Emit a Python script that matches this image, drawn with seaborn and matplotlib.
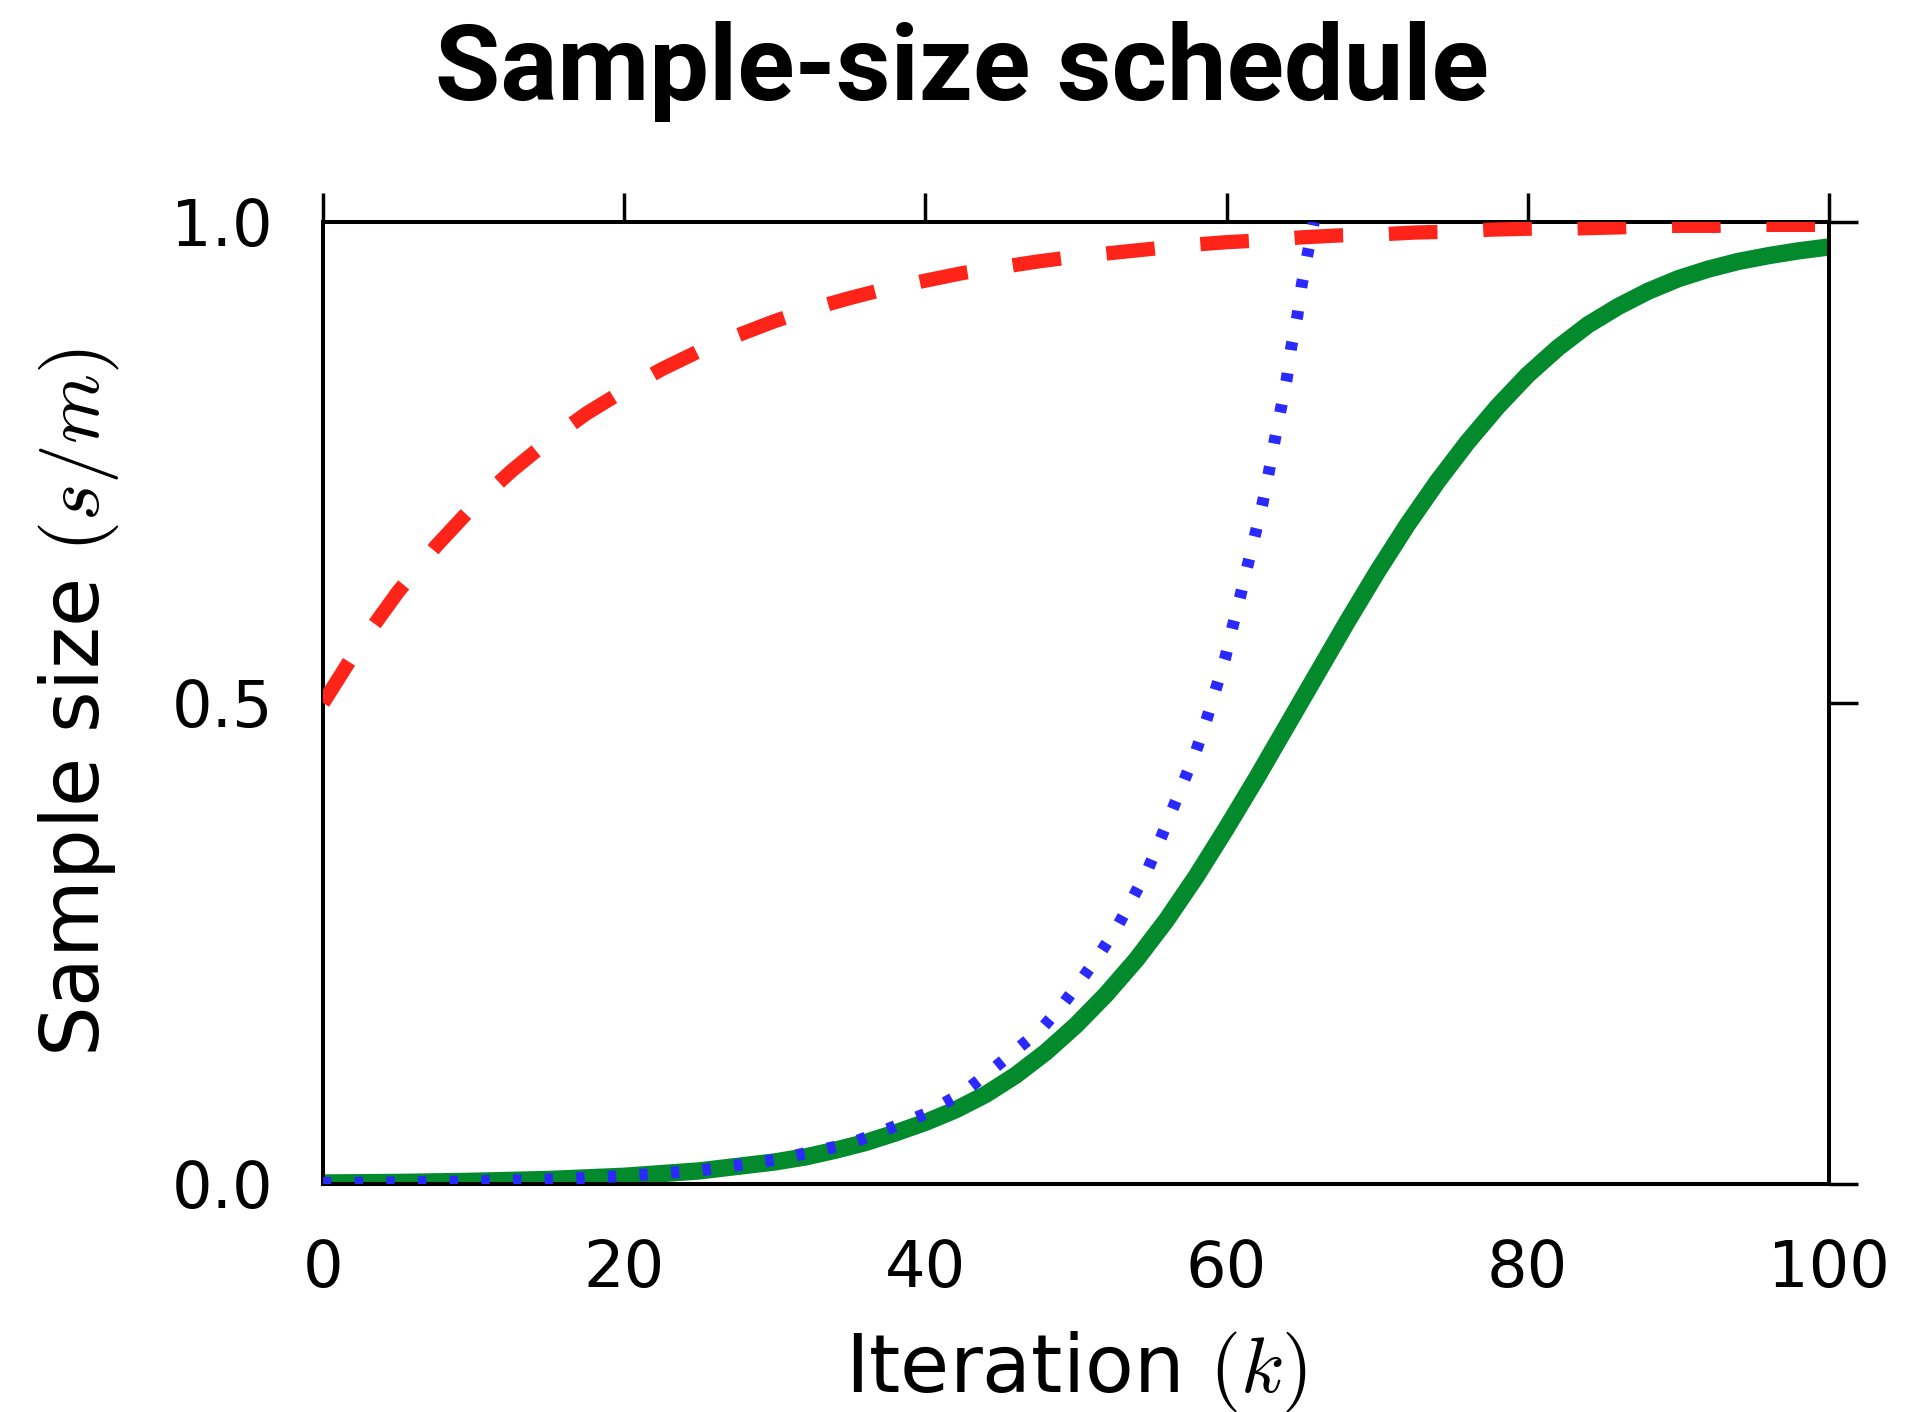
import matplotlib
matplotlib.use("Agg")
import matplotlib.pyplot as plt
import seaborn as sns
import pandas as pd
from matplotlib import font_manager

# ---- data ----
iter_red = [0, 2.5, 5, 7.5, 10, 12.5, 15, 17.5, 20, 22.5, 25, 27.5, 30, 32.5, 35, 37.5,
            40, 42.5, 45, 47.5, 50, 52.5, 55, 57.5, 60, 62.5, 65, 67.5, 70, 72.5, 75,
            77.5, 80, 82.5, 85, 87.5, 90, 92.5, 95, 97.5, 100]
size_red = [0.500, 0.562, 0.616, 0.663, 0.705, 0.741, 0.773, 0.801, 0.825, 0.847, 0.866,
            0.882, 0.897, 0.910, 0.921, 0.931, 0.939, 0.947, 0.953, 0.959, 0.964, 0.968,
            0.972, 0.976, 0.979, 0.981, 0.984, 0.986, 0.987, 0.989, 0.990, 0.992, 0.993,
            0.993, 0.994, 0.995, 0.996, 0.996, 0.997, 0.997, 0.997]

iter_green = [0, 5, 10, 15, 20, 25, 30, 32, 34, 36, 38, 40, 42, 44, 46, 48, 50, 52, 54, 56,
              58, 60, 62, 64, 66, 68, 70, 72, 74, 76, 78, 80, 82, 84, 86, 88, 90, 92, 94,
              96, 98, 100]
size_green = [0.001, 0.0016, 0.0028, 0.0047, 0.008, 0.0136, 0.0229, 0.028, 0.035, 0.043,
              0.053, 0.064, 0.077, 0.093, 0.113, 0.137, 0.165, 0.197, 0.233, 0.274, 0.320,
              0.370, 0.422, 0.476, 0.530, 0.584, 0.636, 0.685, 0.730, 0.771, 0.808, 0.841,
              0.869, 0.893, 0.912, 0.928, 0.941, 0.951, 0.959, 0.965, 0.970, 0.974]

iter_blue = [0, 5, 10, 15, 20, 25, 30, 35, 37.5, 40, 42.5, 44.3, 46.0, 47.7, 49.1, 50.4,
             51.7, 52.8, 53.8, 54.8, 55.6, 56.4, 57.2, 58.0, 58.7, 59.3, 59.9, 60.4, 60.9,
             61.4, 61.9, 62.4, 62.8, 63.2, 63.6, 64.0, 64.3, 64.7, 65.0, 65.4, 65.8]
size_blue = [0.001, 0.0016, 0.0028, 0.0047, 0.0082, 0.014, 0.025, 0.042, 0.057, 0.073, 0.095,
             0.117, 0.139, 0.161, 0.186, 0.213, 0.242, 0.269, 0.298, 0.328, 0.358, 0.389,
             0.420, 0.451, 0.484, 0.515, 0.546, 0.579, 0.610, 0.643, 0.675, 0.708, 0.739,
             0.773, 0.805, 0.837, 0.870, 0.902, 0.935, 0.968, 1.000]

x_ticks = [0, 20, 40, 60, 80, 100]
y_ticks = [0.0, 0.5, 1.0]
title_text = "Sample-size schedule"
x_label = r"Iteration $(k)$"
y_label = r"Sample size $(s/m)$"

sns.set_theme(style="white")
plt.rcParams["font.family"] = ["DejaVu Sans"]
plt.rcParams["mathtext.fontset"] = "cm"
plt.rcParams["text.color"] = "black"
plt.rcParams["axes.labelcolor"] = "black"

available = {f.name for f in font_manager.fontManager.ttflist}
if "Roboto" in available:
    title_family = ["Roboto", "DejaVu Sans"]
    title_size = 76.5
else:
    title_family = ["DejaVu Sans"]
    title_size = 70

fig, ax = plt.subplots(figsize=(19.05, 14.12), dpi=100)
fig.subplots_adjust(left=0.1696, right=0.960, top=0.8428, bottom=0.1615)

df_g = pd.DataFrame({"k": iter_green, "v": size_green})
df_b = pd.DataFrame({"k": iter_blue, "v": size_blue})
df_r = pd.DataFrame({"k": iter_red, "v": size_red})

sns.lineplot(data=df_g, x="k", y="v", ax=ax, color="#038a2c", linewidth=12.5,
             solid_capstyle="butt", solid_joinstyle="round", zorder=2)
sns.lineplot(data=df_b, x="k", y="v", ax=ax, color="#2a2aff", linewidth=8.6,
             linestyle=(0, (0.7, 1.95)), zorder=3)
sns.lineplot(data=df_r, x="k", y="v", ax=ax, color="#ff2419", linewidth=10.3,
             linestyle=(0, (3.4, 3.2)), zorder=4)

ax.set_xlim(0, 100)
ax.set_ylim(0, 1)
ax.set_xticks(x_ticks)
ax.set_yticks(y_ticks)
ax.set_yticklabels([f"{v:.1f}" for v in y_ticks])

for sp in ax.spines.values():
    sp.set_visible(True)
    sp.set_color("black")
    sp.set_linewidth(2.9)

ax.tick_params(axis="both", which="major", direction="out", length=21, width=2.5,
               color="black", top=True, right=True, labelsize=46, labelcolor="black")
ax.tick_params(axis="x", pad=18)
ax.tick_params(axis="y", pad=15)

ax.set_xlabel(x_label, fontsize=57.5, color="black")
ax.set_ylabel(y_label, fontsize=57.5, color="black")
ax.xaxis.set_label_coords(0.5, -0.195)
ax.xaxis.label.set_va("center")
ax.yaxis.set_label_coords(-0.162, 0.5)
ax.yaxis.label.set_va("center")

fig.suptitle(title_text, x=0.505, y=1 - 72 / 1412, va="center", fontsize=title_size,
             fontweight="bold", family=title_family, color="black")

fig.savefig("out.png", dpi=100, facecolor="white")
